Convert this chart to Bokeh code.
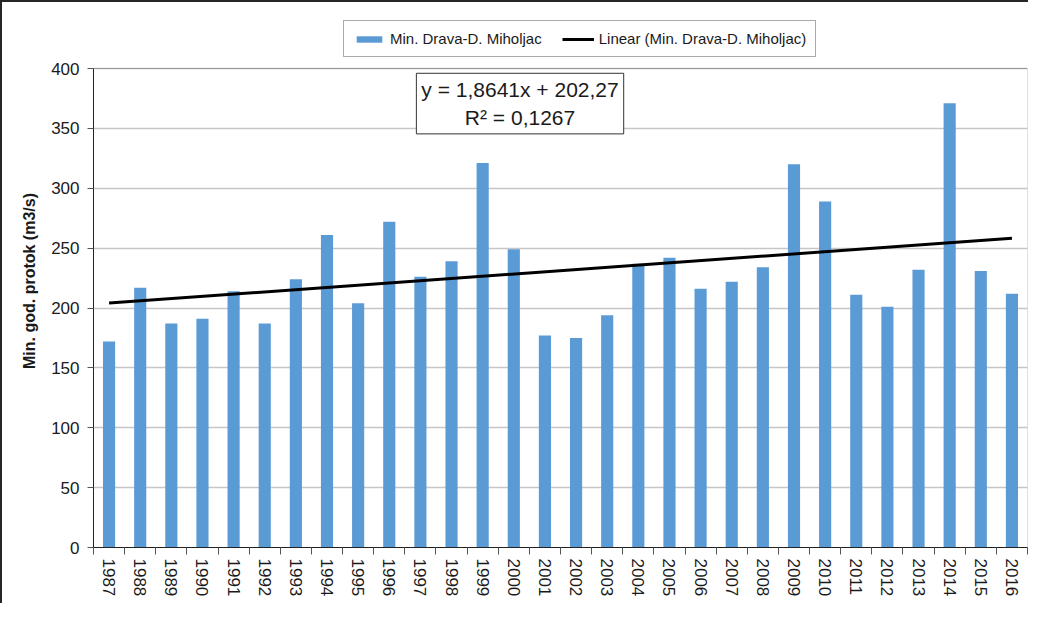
from bokeh.plotting import figure
from bokeh.models import (Range1d, LinearAxis, FixedTicker, Legend, LegendItem, Label,
                          ColumnDataSource, BoxAnnotation)
from bokeh.embed import file_html
from bokeh.resources import INLINE

years = ["1987", "1988", "1989", "1990", "1991", "1992", "1993", "1994", "1995", "1996",
         "1997", "1998", "1999", "2000", "2001", "2002", "2003", "2004", "2005", "2006",
         "2007", "2008", "2009", "2010", "2011", "2012", "2013", "2014", "2015", "2016"]
min_flow = [172, 217, 187, 191, 214, 187, 224, 261, 204, 272,
            226, 239, 321, 249, 177, 175, 194, 237, 242, 216,
            222, 234, 320, 289, 211, 201, 232, 371, 231, 212]
trend_slope = 1.8641
trend_intercept = 202.27
equation_text = "y = 1,8641x + 202,27\nR² = 0,1267"
y_ticks = [0, 50, 100, 150, 200, 250, 300, 350, 400]
series_name = "Min. Drava-D. Miholjac"
trend_name = "Linear (Min. Drava-D. Miholjac)"
y_title = "Min. god. protok (m3/s)"

FONT = "Liberation Sans"
TXT = "#1a1a1a"

# layout (pixels)
FRAME_TOP_PAD = 54      # room above the 400 line for the legend
PLOT_H = 479            # height of the 0..400 value area

pos = list(range(1, len(years) + 1))
x_lo, x_hi = 0.5, len(years) + 0.5
y_lo, y_hi = y_ticks[0], y_ticks[-1]
y_view = y_hi + FRAME_TOP_PAD * (y_hi - y_lo) / PLOT_H

src = ColumnDataSource(dict(x=pos, y=min_flow, year=years))

p = figure(width=1028, height=603, x_range=Range1d(x_lo, x_hi),
           y_range=Range1d(y_lo, y_view),
           output_backend="svg", toolbar_location=None, x_axis_type=None,
           min_border_left=91, min_border_right=3, min_border_top=12, min_border_bottom=58)
p.styles = {"border-top": "2px solid #262626", "border-left": "2px solid #262626"}
p.outline_line_color = None

bars = p.vbar(x="x", top="y", width=0.39, bottom=0, source=src,
              fill_color="#5B9BD5", line_color=None)

tx = [pos[0], pos[-1]]
ty = [trend_slope * v + trend_intercept for v in tx]
trend = p.line(tx, ty, line_color="black", line_width=3)

# plot-area outline (0..400)
p.add_layout(BoxAnnotation(left=x_lo, right=x_hi, bottom=y_lo, top=y_hi,
                           fill_color=None, line_color="#333333", line_width=1,
                           level="underlay"))

# y axis
yax = p.yaxis[0]
yax.ticker = FixedTicker(ticks=y_ticks)
yax.bounds = (y_lo, y_hi)
yax.major_tick_in = 0
yax.major_tick_out = 6
yax.minor_tick_line_color = None
yax.axis_line_color = "#222222"
yax.major_tick_line_color = "#555555"
yax.major_label_text_font = FONT
yax.major_label_text_font_size = "17px"
yax.major_label_text_color = TXT
yax.major_label_standoff = 8
yax.axis_label = y_title
yax.axis_label_text_font = FONT
yax.axis_label_text_font_size = "16px"
yax.axis_label_text_font_style = "bold"
yax.axis_label_text_color = TXT
yax.axis_label_standoff = 10

p.ygrid.ticker = FixedTicker(ticks=y_ticks)
p.ygrid.grid_line_color = "#C6C6C6"
p.ygrid.grid_line_width = 1.5

# x axis: labels at category centres, tick marks between categories (minor ticks)
boundaries = [v - 0.5 for v in pos] + [pos[-1] + 0.5]
xax = LinearAxis(ticker=FixedTicker(ticks=pos, minor_ticks=boundaries),
                 major_label_overrides={v: y for v, y in zip(pos, years)},
                 major_label_orientation="vertical",
                 major_label_text_font=FONT, major_label_text_font_size="17px",
                 major_label_text_color=TXT, major_label_standoff=4,
                 axis_line_color="#222222", major_tick_line_color=None,
                 major_tick_in=0, major_tick_out=7,
                 minor_tick_line_color="#555555", minor_tick_in=0, minor_tick_out=7)
p.add_layout(xax, "below")

# equation box
eq = Label(x=14.2, y=370.7, text=equation_text, text_align="center", text_baseline="middle",
           text_font=FONT, text_font_size="21px", text_color=TXT, text_line_height=1.2,
           border_line_color="#333333", border_line_width=1, background_fill_color="white",
           padding=5)
p.add_layout(eq)

legend = Legend(items=[LegendItem(label=series_name, renderers=[bars]),
                       LegendItem(label=trend_name, renderers=[trend])],
                orientation="horizontal", location=(250, 490),
                label_text_font=FONT, label_text_font_size="15px", label_text_color=TXT,
                glyph_width=32, glyph_height=8, spacing=20, padding=9, label_standoff=5,
                margin=0, border_line_color="#555555", border_line_width=1.5)
p.add_layout(legend, "center")

open("out.html", "w").write(file_html(p, INLINE))
